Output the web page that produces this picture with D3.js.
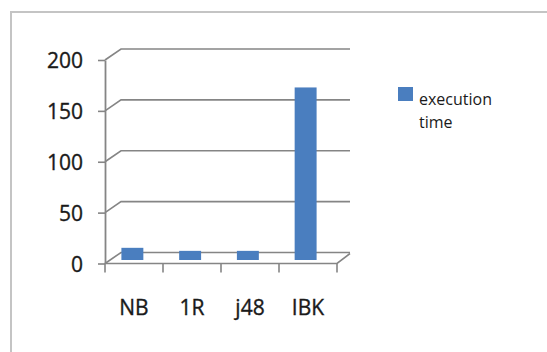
<!DOCTYPE html>
<html>
<head>
<meta charset="utf-8">
<script src="https://cdnjs.cloudflare.com/ajax/libs/d3/7.8.5/d3.min.js"></script>
<style>
  html, body { margin: 0; padding: 0; background: #fff; }
  svg { display: block; }
  text { font-family: "Open Sans", "Liberation Sans", sans-serif; fill: #1a1a1a; }
</style>
</head>
<body>
<svg id="chart" width="547" height="352"></svg>
<script>
// Classifier execution time
const categories = ["NB", "1R", "j48", "IBK"];
const executionTime = [12, 9, 9, 170];
const yTicks = [0, 50, 100, 150, 200];
const seriesName = ["execution", "time"];

const svg = d3.select("#chart");

// Outer chart frame
svg.append("rect")
  .attr("x", 11).attr("y", 12)
  .attr("width", 560).attr("height", 360)
  .attr("fill", "#fff")
  .attr("stroke", "#c4c4c4")
  .attr("stroke-width", 2);

// Front plane geometry and depth offset of the back wall
const left = 105, right = 337;
const depthLeft = { dx: 16, dy: -11 };
const depthRight = { dx: 13, dy: -10 };

const yFront = d3.scaleLinear().domain([0, 200]).range([263.5, 60]);
const yBar = d3.scaleLinear().domain([0, 200]).range([260, 57]);
const x = d3.scaleBand().domain(categories).range([left, right]);
const xBar = d3.scaleBand().domain(categories).range([103.5, 334.5]).paddingInner(0.62).paddingOuter(0.31);

const gridColor = "#858585";

// Back-wall gridlines with the diagonal connectors to the value axis
const grid = svg.append("g").attr("fill", "none").attr("stroke", gridColor).attr("stroke-width", 1.6);
yTicks.forEach(t => {
  const yf = yFront(t);
  const yb = yf + depthLeft.dy;
  grid.append("path")
    .attr("d", `M${left},${yf} L${left + depthLeft.dx},${yb} L${right + depthRight.dx},${yb}`);
});

// Floor: front edge and right-hand corner
grid.append("path")
  .attr("d", `M${left},${yFront(0)} L${right},${yFront(0)} L${right + depthRight.dx},${yFront(0) + depthRight.dy}`);

// Value axis
const yAxis = d3.axisLeft(yFront).tickValues(yTicks).tickSize(7).tickPadding(10).tickSizeOuter(0);
const gy = svg.append("g").attr("transform", `translate(${left},0)`).call(yAxis);
gy.select(".domain").attr("stroke", gridColor).attr("stroke-width", 1.8);
gy.selectAll(".tick line").attr("stroke", gridColor).attr("stroke-width", 1.6);
gy.selectAll(".tick text")
  .attr("font-size", 21)
  .attr("fill", "#1a1a1a")
  .attr("stroke", "#1a1a1a").attr("stroke-width", 0.35)
  .style("font-family", "'Open Sans', sans-serif")
  .attr("x", -22)
  .attr("dy", "0.36em");

// Category axis ticks at band boundaries
const boundaries = categories.map(c => x(c)).concat([right]);
svg.append("g").selectAll("line").data(boundaries).join("line")
  .attr("x1", d => d).attr("x2", d => d)
  .attr("y1", yFront(0)).attr("y2", yFront(0) + 9)
  .attr("stroke", gridColor).attr("stroke-width", 1.6);

// Category labels
svg.append("g").selectAll("text").data(categories).join("text")
  .attr("x", d => x(d) + x.bandwidth() / 2)
  .attr("y", 315)
  .attr("text-anchor", "middle")
  .attr("font-size", 21)
  .attr("stroke", "#1a1a1a").attr("stroke-width", 0.35)
  .text(d => d);

// Bars
svg.append("g").selectAll("rect").data(categories).join("rect")
  .attr("x", d => xBar(d))
  .attr("width", xBar.bandwidth())
  .attr("y", (d, i) => yBar(executionTime[i]))
  .attr("height", (d, i) => yBar(0) - yBar(executionTime[i]))
  .attr("fill", "#4a7ebf");

// Legend
const legend = svg.append("g");
legend.append("rect")
  .attr("x", 398).attr("y", 87)
  .attr("width", 15).attr("height", 14)
  .attr("fill", "#4a7ebf");
legend.selectAll("text").data(seriesName).join("text")
  .attr("x", 419)
  .attr("y", (d, i) => 105 + i * 23)
  .attr("font-size", 16)
  .text(d => d);
</script>
</body>
</html>
